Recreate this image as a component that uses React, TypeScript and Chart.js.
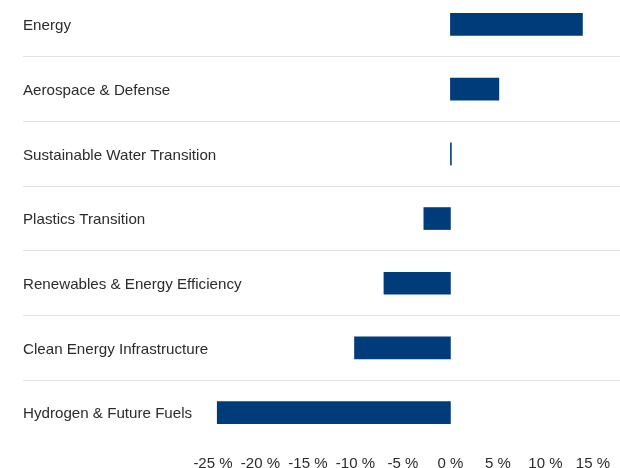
import React, { useEffect, useRef } from "react";
import { Chart, registerables } from "chart.js";

Chart.register(...registerables);

const categories = [
  "Energy",
  "Aerospace & Defense",
  "Sustainable Water Transition",
  "Plastics Transition",
  "Renewables & Energy Efficiency",
  "Clean Energy Infrastructure",
  "Hydrogen & Future Fuels",
];

const performance = [13.9, 5.1, 0.1, -2.8, -7.0, -10.1, -24.55];

const tickValues = [-25, -20, -15, -10, -5, 0, 5, 10, 15];

const FONT = "'Liberation Sans', Arial, Helvetica, sans-serif";

export default function App() {
  const ref = useRef<HTMLCanvasElement | null>(null);

  useEffect(() => {
    if (!ref.current) return;
    const chart = new Chart(ref.current, {
      type: "bar",
      data: {
        labels: categories,
        datasets: [
          {
            data: performance,
            backgroundColor: "#003c7a",
            borderWidth: 0,
            barThickness: 22,
          },
        ],
      },
      options: {
        indexAxis: "y",
        animation: false,
        responsive: false,
        maintainAspectRatio: false,
        layout: { padding: { left: 23, right: 0, top: 0, bottom: 0 } },
        plugins: {
          legend: { display: false },
          tooltip: { enabled: false },
        },
        scales: {
          x: {
            type: "linear",
            min: -45,
            max: 17.85,
            afterBuildTicks: (scale: any) => {
              scale.ticks = tickValues.map((v) => ({ value: v }));
            },
            grid: { display: false, drawTicks: false },
            border: { display: false },
            ticks: {
              padding: 10,
              color: "#2b2b2b",
              font: { family: FONT, size: 15 },
              maxRotation: 0,
              autoSkip: false,
              callback: (v: any) => `${v} %`,
            },
          },
          y: {
            type: "category",
            offset: true,
            grid: {
              offset: true,
              drawTicks: false,
              lineWidth: 1,
              color: (ctx: any) =>
                ctx.type !== "tick" || ctx.index === 0
                  ? "rgba(0,0,0,0)"
                  : "#e2e2e2",
            },
            border: { display: false },
            ticks: {
              mirror: true,
              padding: 0,
              labelOffset: 1.5,
              crossAlign: "near",
              color: "#2b2b2b",
              font: { family: FONT, size: 15.15 },
              autoSkip: false,
            },
          },
        },
      },
    });
    return () => chart.destroy();
  }, []);

  return (
    <div
      style={{
        position: "fixed",
        top: -17,
        left: 0,
        width: 620,
        height: 500,
        background: "#fff",
      }}
    >
      <canvas ref={ref} width={620} height={500} style={{ width: 620, height: 500, display: "block" }} />
    </div>
  );
}
